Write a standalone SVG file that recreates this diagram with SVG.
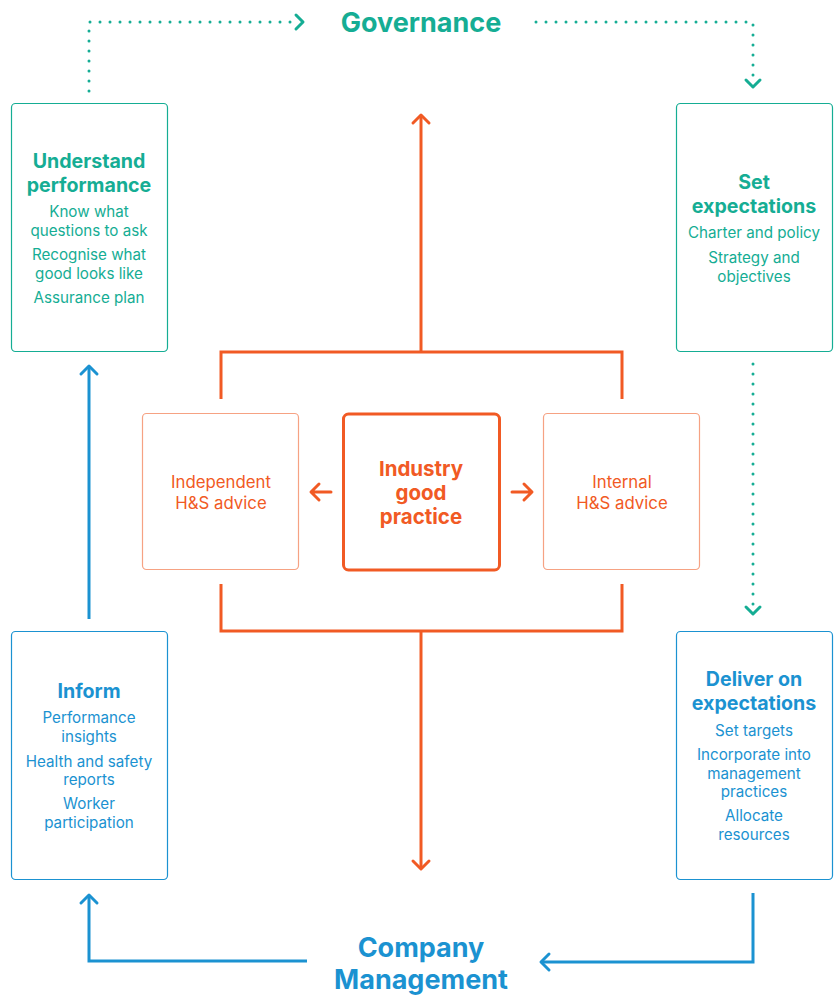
<svg xmlns="http://www.w3.org/2000/svg" width="834" height="996" viewBox="0 0 834 996">
<defs>
<style>
text{font-family:Inter,"Noto Sans",sans-serif;text-anchor:middle}
.t{fill:#15ad94}.b{fill:#1b92d1}.o{fill:#f15a24}
.h{font-weight:700;font-size:19.6px}
.s{font-size:15.2px}
.big{font-weight:700;font-size:27px}
.box{fill:#fff;stroke-width:1.2}
.dot{fill:none;stroke:#15ad94;stroke-width:3;stroke-linecap:round;stroke-dasharray:0 10}
.chev{fill:none;stroke-width:3;stroke-linecap:round;stroke-linejoin:round}
</style>
</defs>
<rect width="834" height="996" fill="#fff"/>
<g id="connectors">
<path class="dot" d="M89,91 V22 H294"/>
<path class="chev" stroke="#15ad94" d="M296,15 L303,22 L296,29"/>
<path class="dot" d="M536,22 H753 V82"/>
<path class="chev" stroke="#15ad94" d="M746,80 L753,87 L760,80"/>
<path class="dot" d="M753,364 V609"/>
<path class="chev" stroke="#15ad94" d="M746,607 L753,614 L760,607"/>
<g fill="none" stroke="#f15a24" stroke-width="3">
<path d="M421,351 V116"/>
<path d="M413,123 L421,115 L429,123" stroke-linecap="round" stroke-linejoin="round"/>
<path d="M221,399 V352 H622 V399"/>
<path d="M221,584 V631 H622 V584"/>
<path d="M421,631 V868"/>
<path d="M413,861 L421,869 L429,861" stroke-linecap="round" stroke-linejoin="round"/>
<path d="M331,492 H312 M319,484 L311,492 L319,500" stroke-linecap="round" stroke-linejoin="round"/>
<path d="M512,492 H531 M524,484 L532,492 L524,500" stroke-linecap="round" stroke-linejoin="round"/>
</g>
<g fill="none" stroke="#1b92d1" stroke-width="3">
<path d="M89,619 V367"/>
<path d="M81,374 L89,366 L97,374" stroke-linecap="round" stroke-linejoin="round"/>
<path d="M307,961 H89 V896"/>
<path d="M81,903 L89,895 L97,903" stroke-linecap="round" stroke-linejoin="round"/>
<path d="M753,893 V962 H542"/>
<path d="M549,954 L541,962 L549,970" stroke-linecap="round" stroke-linejoin="round"/>
</g>
</g>
<g id="governance"><text class="t big" x="421" y="32">Governance</text></g>
<g id="company-management"><text class="b big" x="421" y="957">Company</text><text class="b big" x="421" y="989">Management</text></g>
<g id="understand-performance">
<rect class="box" x="11.5" y="103.5" width="156" height="248" rx="4" stroke="#15ad94"/>
<text class="t h" x="89" y="168">Understand</text>
<text class="t h" x="89" y="192">performance</text>
<text class="t s" x="89" y="217">Know what</text>
<text class="t s" x="89" y="236">questions to ask</text>
<text class="t s" x="89" y="260">Recognise what</text>
<text class="t s" x="89" y="279">good looks like</text>
<text class="t s" x="89" y="303">Assurance plan</text>
</g>
<g id="set-expectations">
<rect class="box" x="676.5" y="103.5" width="156" height="248" rx="4" stroke="#15ad94"/>
<text class="t h" x="754" y="189">Set</text>
<text class="t h" x="754" y="213">expectations</text>
<text class="t s" x="754" y="238">Charter and policy</text>
<text class="t s" x="754" y="263">Strategy and</text>
<text class="t s" x="754" y="282">objectives</text>
</g>
<g id="inform">
<rect class="box" x="11.5" y="631.5" width="156" height="248" rx="4" stroke="#1b92d1"/>
<text class="b h" x="89" y="698">Inform</text>
<text class="b s" x="89" y="723">Performance</text>
<text class="b s" x="89" y="742">insights</text>
<text class="b s" x="89" y="767">Health and safety</text>
<text class="b s" x="89" y="785">reports</text>
<text class="b s" x="89" y="809">Worker</text>
<text class="b s" x="89" y="828">participation</text>
</g>
<g id="deliver-on-expectations">
<rect class="box" x="676.5" y="631.5" width="156" height="248" rx="4" stroke="#1b92d1"/>
<text class="b h" x="754" y="686">Deliver on</text>
<text class="b h" x="754" y="710">expectations</text>
<text class="b s" x="754" y="736">Set targets</text>
<text class="b s" x="754" y="760">Incorporate into</text>
<text class="b s" x="754" y="779">management</text>
<text class="b s" x="754" y="797">practices</text>
<text class="b s" x="754" y="821">Allocate</text>
<text class="b s" x="754" y="840">resources</text>
</g>
<g id="independent-advice">
<rect class="box" x="142.5" y="413.5" width="156" height="156" rx="4" stroke="#f6a283"/>
<text class="o" x="221" y="488" font-size="16.8">Independent</text>
<text class="o" x="221" y="509" font-size="16.8">H&amp;S advice</text>
</g>
<g id="industry-good-practice">
<rect x="343.5" y="414" width="156" height="156" rx="5" fill="#fff" stroke="#f15a24" stroke-width="3"/>
<text class="o" x="421" y="476" font-weight="700" font-size="20.5">Industry</text>
<text class="o" x="421" y="500" font-weight="700" font-size="20.5">good</text>
<text class="o" x="421" y="524" font-weight="700" font-size="20.5">practice</text>
</g>
<g id="internal-advice">
<rect class="box" x="543.5" y="413.5" width="156" height="156" rx="4" stroke="#f6a283"/>
<text class="o" x="622" y="488" font-size="16.8">Internal</text>
<text class="o" x="622" y="509" font-size="16.8">H&amp;S advice</text>
</g>
</svg>
